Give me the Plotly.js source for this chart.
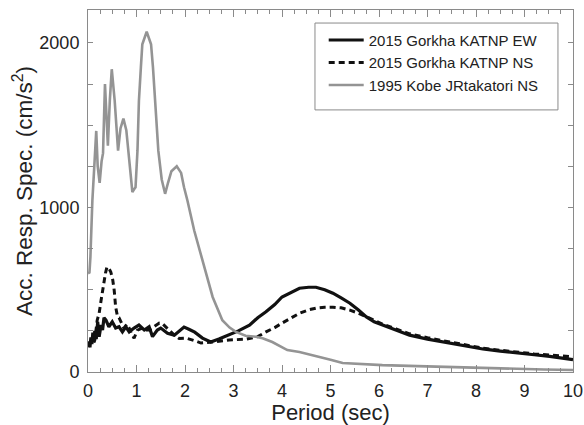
<!DOCTYPE html>
<html>
<head>
<meta charset="utf-8">
<script src="https://cdn.plot.ly/plotly-3.0.1.min.js"></script>
<style>html,body{margin:0;padding:0;background:#fff;}#chart{width:584px;height:425px;}</style>
</head>
<body>
<div id="chart"></div>
<script>
// Period (sec) and acceleration response spectra (cm/s^2)
const ewPeriod = [0, 0.02, 0.04, 0.06, 0.08, 0.1, 0.12, 0.14, 0.17, 0.2, 0.23, 0.27, 0.3, 0.33, 0.37, 0.43, 0.5, 0.57, 0.64, 0.71, 0.78, 0.85, 0.95, 1.05, 1.16, 1.26, 1.33, 1.43, 1.5, 1.64, 1.78, 1.9, 1.98, 2.08, 2.2, 2.36, 2.53, 2.7, 2.9, 3.1, 3.33, 3.5, 3.67, 3.85, 4.0, 4.18, 4.36, 4.55, 4.7, 4.88, 5.05, 5.22, 5.4, 5.57, 5.74, 5.9, 6.08, 6.35, 6.63, 7.0, 7.46, 7.8, 8.14, 8.5, 8.84, 9.2, 9.52, 9.8, 10];
const ewAcc = [153, 185, 150, 210, 170, 240, 180, 250, 200, 305, 214, 285, 255, 330, 315, 275, 305, 267, 275, 244, 275, 244, 267, 285, 255, 275, 215, 255, 267, 236, 224, 250, 273, 260, 242, 206, 182, 200, 225, 250, 285, 330, 366, 410, 456, 485, 509, 515, 515, 500, 479, 450, 418, 378, 335, 305, 285, 255, 224, 200, 176, 158, 140, 127, 114, 105, 95, 84, 75];

const nsPeriod = [0, 0.05, 0.1, 0.14, 0.19, 0.23, 0.27, 0.3, 0.33, 0.36, 0.39, 0.43, 0.47, 0.51, 0.54, 0.57, 0.61, 0.64, 0.68, 0.74, 0.8, 0.85, 0.9, 0.95, 1.02, 1.12, 1.19, 1.26, 1.36, 1.47, 1.53, 1.6, 1.7, 1.78, 1.88, 2.02, 2.2, 2.33, 2.56, 2.91, 3.26, 3.5, 3.67, 3.85, 4.0, 4.2, 4.36, 4.55, 4.7, 4.88, 5.05, 5.22, 5.4, 5.57, 5.74, 5.9, 6.08, 6.35, 6.63, 7.0, 7.46, 7.8, 8.14, 8.5, 8.84, 9.2, 9.52, 9.8, 10];
const nsAcc = [153, 180, 170, 194, 315, 357, 436, 497, 558, 600, 638, 630, 608, 560, 497, 396, 335, 330, 305, 267, 290, 267, 230, 206, 255, 267, 255, 255, 275, 297, 295, 275, 250, 224, 204, 206, 190, 176, 182, 194, 200, 215, 244, 270, 297, 330, 357, 378, 388, 393, 394, 390, 376, 358, 335, 310, 290, 262, 232, 208, 182, 164, 145, 132, 120, 110, 103, 98, 92];

const kobePeriod = [0, 0.03, 0.05, 0.07, 0.09, 0.13, 0.17, 0.2, 0.24, 0.28, 0.31, 0.35, 0.38, 0.41, 0.45, 0.49, 0.55, 0.62, 0.67, 0.73, 0.79, 0.85, 0.915, 0.95, 0.98, 1.02, 1.05, 1.09, 1.12, 1.21, 1.3, 1.34, 1.38, 1.45, 1.52, 1.59, 1.65, 1.72, 1.83, 1.92, 1.98, 2.05, 2.19, 2.4, 2.57, 2.77, 2.92, 3.05, 3.25, 3.46, 3.6, 3.8, 3.95, 4.11, 4.36, 4.71, 5.0, 5.25, 5.6, 6.07, 6.8, 7.46, 8.2, 8.84, 9.4, 10];
const kobeAcc = [600, 605, 700, 880, 1040, 1250, 1465, 1250, 1150, 1280, 1330, 1750, 1500, 1375, 1650, 1840, 1650, 1345, 1480, 1540, 1470, 1280, 1093, 1110, 1123, 1345, 1648, 1850, 1992, 2068, 1992, 1850, 1648, 1345, 1170, 1083, 1150, 1220, 1250, 1210, 1123, 1042, 860, 638, 456, 315, 270, 244, 220, 214, 205, 182, 160, 133, 121, 97, 75, 55, 48, 42, 36, 30, 24, 18, 15, 12];

const seriesNames = ['2015 Gorkha KATNP EW', '2015 Gorkha KATNP NS', '1995 Kobe JRtakatori NS'];
const xTickVals = [0, 1, 2, 3, 4, 5, 6, 7, 8, 9, 10];
const xTickText = ['0', '1', '2', '3', '4', '5', '6', '7', '8', '9', '10'];
const yTickVals = [0, 1000, 2000];
const yTickText = ['0', '1000', '2000'];
const xTitle = 'Period (sec)';
const yTitle = 'Acc. Resp. Spec. (cm/s<sup>2</sup>)';

const font = '"Liberation Sans", Arial, Helvetica, sans-serif';

const traces = [
  {x: ewPeriod, y: ewAcc, name: seriesNames[0], mode: 'lines', line: {color: '#111', width: 3.2}},
  {x: nsPeriod, y: nsAcc, name: seriesNames[1], mode: 'lines', line: {color: '#111', width: 3, dash: '6px,4px'}},
  {x: kobePeriod, y: kobeAcc, name: seriesNames[2], mode: 'lines', line: {color: '#949494', width: 2.6}}
];

const axisCommon = {
  showgrid: false, zeroline: false, showline: true, linecolor: '#8a8a8a', linewidth: 1,
  mirror: 'ticks', ticks: 'inside', tickcolor: '#8a8a8a', tickwidth: 1,
  tickmode: 'array', ticklabeloverflow: 'allow',
  tickfont: {family: font, size: 18, color: '#222'}
};

const layout = {
  width: 584, height: 425,
  margin: {l: 88, r: 11, t: 10, b: 53},
  paper_bgcolor: '#fff', plot_bgcolor: '#fff',
  showlegend: true,
  xaxis: Object.assign({}, axisCommon, {
    range: [0, 10.0001], tickvals: xTickVals, ticktext: xTickText, ticklen: 7,
    minor: {dtick: 0.25, tick0: 0, ticks: 'inside', ticklen: 4, tickcolor: '#8a8a8a', showgrid: false},
    ticklabelstandoff: 2,
    title: {text: xTitle, font: {family: font, size: 22, color: '#222'}, standoff: 4}
  }),
  yaxis: Object.assign({}, axisCommon, {
    range: [0, 2200], tickvals: yTickVals, ticktext: yTickText, ticklen: 5,
    minor: {dtick: 250, tick0: 0, ticks: 'inside', ticklen: 5, tickcolor: '#8a8a8a', showgrid: false},
    ticklabelstandoff: 4,
    title: {text: yTitle, font: {family: font, size: 22.5, color: '#222'}, standoff: 0}
  }),
  legend: {
    x: 0.486, y: 0.962, xanchor: 'left', yanchor: 'top',
    bgcolor: 'rgba(0,0,0,0)', borderwidth: 0,
    font: {family: font, size: 15, color: '#222'},
    itemwidth: 35, tracegroupgap: 0
  },
  shapes: [{
    type: 'rect', xref: 'paper', yref: 'paper',
    x0: 0.468, x1: 0.969, y0: 0.724, y1: 0.964,
    line: {color: '#8a8a8a', width: 1}, fillcolor: 'rgba(0,0,0,0)'
  }]
};

Plotly.newPlot('chart', traces, layout, {displayModeBar: false, staticPlot: true});
</script>
</body>
</html>
